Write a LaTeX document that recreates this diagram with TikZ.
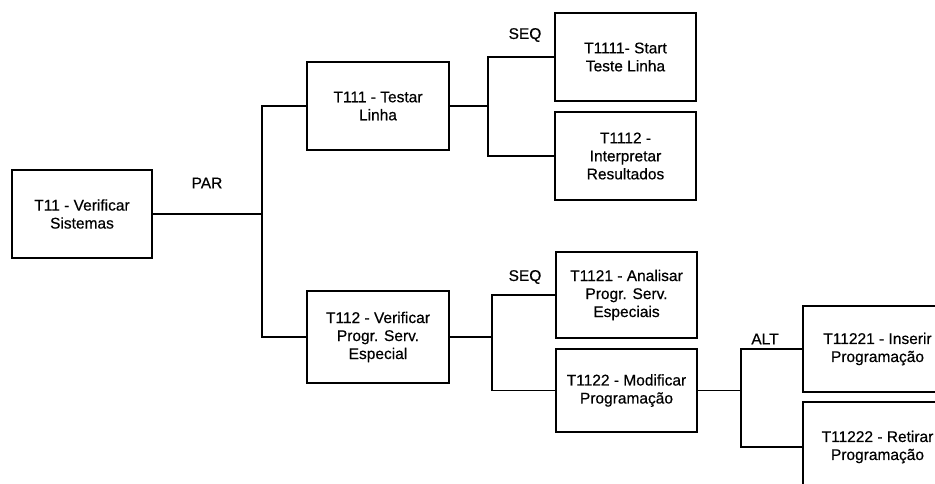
\documentclass[tikz,border=0pt]{standalone}
\usepackage{fontspec}
\setmainfont{Liberation Sans}
\newfontfamily\taskfont{Liberation Sans}[FakeBold=0.5]
\begin{document}
\begin{tikzpicture}[x=1pt,y=-1pt,
  task/.style={draw=black, line width=1.2pt, fill=white, align=center,
    inner sep=0pt, font=\taskfont\fontsize{15.5}{18}\selectfont},
  link/.style={draw=black, line width=1.2pt},
  oplabel/.style={font=\taskfont\fontsize{15.5}{18}\selectfont, inner sep=0pt}]
\useasboundingbox (0,0) rectangle (935,483);
\clip (0,0) rectangle (935,483);
\fill[white] (0,0) rectangle (935,483);

% task boxes
\node[task, minimum width=140pt, minimum height=88pt] (t11) at (82,214) {T11 - Verificar\\Sistemas};
\node[task, minimum width=142pt, minimum height=88pt] (t111) at (378,106) {T111 - Testar\\Linha};
\node[task, minimum width=142pt, minimum height=92pt] (t112) at (378,337) {T112 - Verificar\\Progr. Serv.\\Especial};
\node[task, minimum width=141pt, minimum height=88pt] (t1111) at (625.5,57) {T1111- Start\\Teste Linha};
\node[task, minimum width=141pt, minimum height=88pt] (t1112) at (625.5,156) {T1112 -\\Interpretar\\Resultados};
\node[task, minimum width=141pt, minimum height=86pt] (t1121) at (626.5,295) {T1121 - Analisar\\Progr. Serv.\\Especiais};
\node[task, minimum width=141pt, minimum height=83pt] (t1122) at (626.5,390.5) {T1122 - Modificar\\Programação};
\node[task, minimum width=149pt, minimum height=86pt] (t11221) at (877.5,349) {T11221 - Inserir\\Programação};
\node[task, minimum width=149pt, minimum height=90pt] (t11222) at (877.5,447) {T11222 - Retirar\\Programação};

% junction points
\coordinate (par) at (262,214);
\coordinate (seqa) at (488,106);
\coordinate (seqb) at (492,337);
\coordinate (alt) at (741,390.5);

% PAR
\draw[link] (t11.east) -- (par);
\draw[link] (t111.west) -- (t111.west -| par) -- (t112.west -| par) -- (t112.west);
\node[oplabel] (parlbl) at (207,183) {PAR};

% SEQ under T111
\draw[link] (t111.east) -- (seqa);
\draw[link] (t1111.west) -- (t1111.west -| seqa) -- (t1112.west -| seqa) -- (t1112.west);
\node[oplabel] (seqalbl) at (525,35) {SEQ};

% SEQ under T112
\draw[link] (t112.east) -- (seqb);
\draw[link] (t1121.west) -- (t1121.west -| seqb) -- (t1122.west -| seqb) -- (t1122.west);
\node[oplabel] (seqblbl) at (525,277) {SEQ};

% ALT under T1122
\draw[link] (t1122.east) -- (alt);
\draw[link] (t11221.west) -- (t11221.west -| alt) -- (t11222.west -| alt) -- (t11222.west);
\node[oplabel] (altlbl) at (765,339) {ALT};
\end{tikzpicture}
\end{document}
